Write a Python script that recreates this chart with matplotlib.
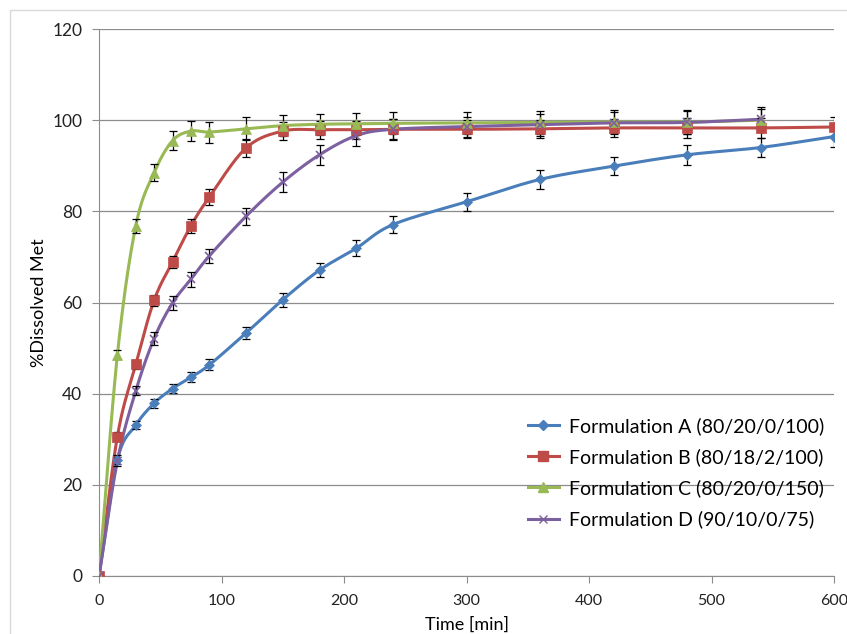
import numpy as np
import matplotlib
matplotlib.use("Agg")
import matplotlib.pyplot as plt
from matplotlib.patches import Rectangle

plt.rcParams['font.family'] = ['Lato', 'DejaVu Sans']

# temps de prélèvement (min)
time_a = [0, 15, 30, 45, 60, 75, 90, 120, 150, 180, 210, 240, 300, 360, 420, 480, 540, 600]
time_cd = time_a[:-1]

# % de metformine dissoute
form_a = [0, 25.5, 33.1, 37.9, 41.1, 43.6, 46.3, 53.3, 60.6, 67.1, 71.9, 77.1, 82.1, 87.0, 89.9, 92.4, 94.0, 96.4]
form_b = [0, 30.6, 46.4, 60.5, 68.9, 76.8, 83.1, 93.9, 97.6, 97.9, 97.9, 98.0, 98.0, 98.1, 98.3, 98.3, 98.3, 98.5]
form_c = [0, 48.5, 76.8, 88.5, 95.5, 97.6, 97.4, 98.1, 98.8, 99.1, 99.2, 99.3, 99.4, 99.5, 99.6, 99.6, 100.0]
form_d = [0, 25.2, 40.6, 52.1, 59.9, 65.1, 70.2, 78.9, 86.4, 92.4, 96.6, 98.0, 98.6, 99.0, 99.4, 99.5, 100.2]

# écarts-types
err_a = [0, 1.0, 0.9, 1.0, 1.0, 1.1, 1.2, 1.3, 1.5, 1.6, 1.8, 1.8, 2.0, 2.1, 2.0, 2.2, 2.1, 2.2]
err_b = [0, 1.0, 1.0, 1.2, 1.3, 1.6, 1.8, 2.0, 2.0, 2.0, 2.0, 2.2, 2.0, 2.0, 2.0, 2.2, 2.2, 2.2]
err_c = [0, 1.0, 1.6, 1.8, 2.1, 2.2, 2.3, 2.5, 2.3, 2.3, 2.4, 2.4, 2.4, 2.6, 2.6, 2.6, 2.5]
err_d = [0, 1.0, 1.0, 1.5, 1.5, 1.6, 1.6, 1.8, 2.2, 2.2, 2.2, 2.3, 2.2, 2.4, 2.3, 2.5, 2.6]

labels = ["Formulation A (80/20/0/100)", "Formulation B (80/18/2/100)",
          "Formulation C (80/20/0/150)", "Formulation D (90/10/0/75)"]
colors = ["#4A7EBB", "#BE4B48", "#98B954", "#7D60A0"]
markers = ["D", "s", "^", "x"]
msizes = [5, 7, 7, 6]


def lissage(x, y, n=20):
    # courbe lissée type Excel (Catmull-Rom)
    x = np.asarray(x, float)
    y = np.asarray(y, float)
    px = np.concatenate([[2 * x[0] - x[1]], x, [2 * x[-1] - x[-2]]])
    py = np.concatenate([[2 * y[0] - y[1]], y, [2 * y[-1] - y[-2]]])
    xs, ys = [], []
    t = np.linspace(0, 1, n)
    for i in range(1, len(px) - 2):
        for p, out in ((px, xs), (py, ys)):
            p0, p1, p2, p3 = p[i - 1], p[i], p[i + 1], p[i + 2]
            out.extend(0.5 * ((2 * p1) + (-p0 + p2) * t
                              + (2 * p0 - 5 * p1 + 4 * p2 - p3) * t ** 2
                              + (-p0 + 3 * p1 - 3 * p2 + p3) * t ** 3))
    return np.array(xs), np.array(ys)


fig = plt.figure(figsize=(8.47, 6.34), dpi=100)
fig.patches.append(Rectangle((10 / 847, -0.1), 1.2, 1 - 10 / 634 + 0.1,
                             transform=fig.transFigure, fill=False,
                             edgecolor="#D9D9D9", linewidth=1))
ax = fig.add_axes([99 / 847, 1 - 576 / 634, 735 / 847, 547 / 634])

series = [(time_a, form_a, err_a), (time_a, form_b, err_b),
          (time_cd, form_c, err_c), (time_cd, form_d, err_d)]

for (t, y, e), lab, c, m, ms in zip(series, labels, colors, markers, msizes):
    sx, sy = lissage(t, y)
    ax.plot(sx, sy, color=c, linewidth=2.2, zorder=3)
    ax.errorbar(t, y, yerr=e, fmt="none", ecolor="black", elinewidth=0.9,
                capsize=3, capthick=0.9, zorder=4)
    ax.plot(t, y, linestyle="none", marker=m, color=c, markersize=ms,
            markeredgewidth=1.2 if m == "x" else 0.5, zorder=5)
    ax.plot([], [], color=c, marker=m, markersize=ms, linewidth=2.2, label=lab)

ax.set_xlim(0, 600)
ax.set_ylim(0, 120)
ax.set_xticks(range(0, 601, 100))
ax.set_yticks(range(0, 121, 20))
ax.yaxis.grid(True, color="#8C8C8C", linewidth=0.9)
ax.set_axisbelow(True)
for s in ["top", "right"]:
    ax.spines[s].set_visible(False)
for s in ["left", "bottom"]:
    ax.spines[s].set_color("#8C8C8C")
ax.tick_params(colors="#8C8C8C", length=5, labelcolor="#222222", labelsize=12.5)
ax.tick_params(axis="y", pad=7)
ax.tick_params(axis="x", pad=8, labelsize=11.5)
ax.set_xlabel("Time [min]", fontsize=13, labelpad=6)
ax.set_ylabel("%Dissolved Met", fontsize=13, labelpad=4)

ax.legend(loc="lower right", bbox_to_anchor=(1.01, 0.055), frameon=False,
          fontsize=14, handlelength=1.6, handletextpad=0.5, labelspacing=0.68)

fig.savefig("out.png", dpi=100)
